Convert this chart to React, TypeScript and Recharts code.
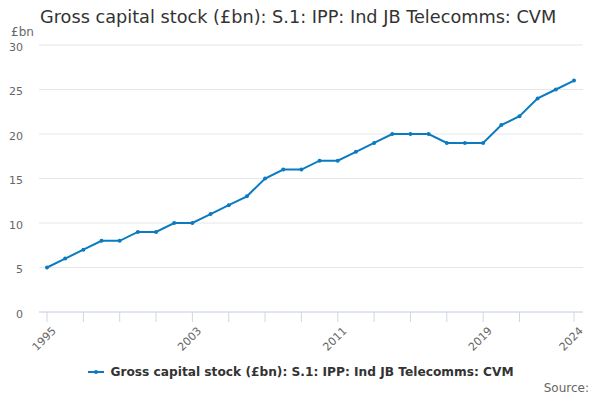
import React from "react";
import { LineChart, Line, XAxis, YAxis, CartesianGrid } from "recharts";

const years = [1995,1996,1997,1998,1999,2000,2001,2002,2003,2004,2005,2006,2007,2008,2009,2010,2011,2012,2013,2014,2015,2016,2017,2018,2019,2020,2021,2022,2023,2024];
const values = [5,6,7,8,8,9,9,10,10,11,12,13,15,16,16,17,17,18,19,20,20,20,19,19,19,21,22,24,25,26];
const xTicks = [1995,1997,1999,2001,2003,2005,2007,2009,2011,2013,2015,2017,2019,2021,2024];
const xLabels = [1995,2003,2011,2019,2024];
const yTicks = [0,5,10,15,20,25,30];

const seriesName = "Gross capital stock (£bn): S.1: IPP: Ind JB Telecomms: CVM";
const data = years.map((y, i) => ({ year: y, value: values[i] }));

const FONT = "DejaVu Sans, sans-serif";
const LINE = "#0b7bc1";

const XTick = (props: any) => {
  const { x, y, payload } = props;
  if (!xLabels.includes(payload.value)) return null;
  return (
    <g transform={`translate(${x + 4},${y + 2})`}>
      <text textAnchor="end" fill="#666" fontSize={11} fontFamily={FONT} transform="rotate(-45)" dy={8}>
        {payload.value}
      </text>
    </g>
  );
};

const YTick = (props: any) => {
  const { x, y, payload } = props;
  return (
    <text x={x} y={y} dy={5.5} textAnchor="end" fill="#666" fontSize={11} fontFamily={FONT}>
      {payload.value}
    </text>
  );
};

export default function App() {
  return (
    <div style={{ position: "absolute", left: 0, top: 0, width: 600, height: 400, background: "#fff", fontFamily: FONT }}>
      <div style={{ position: "absolute", left: 40, top: 8, fontSize: 17.7, color: "#333", whiteSpace: "nowrap", lineHeight: "18px" }}>{seriesName}</div>
      <div style={{ position: "absolute", left: 11, top: 26, fontSize: 12, color: "#666", lineHeight: "12px" }}>£bn</div>
      <LineChart width={600} height={400} data={data} margin={{ top: 45, right: 17, left: 0, bottom: 0 }}>
        <CartesianGrid horizontal vertical={false} stroke="#e6e6e6" />
        <XAxis
          dataKey="year"
          type="number"
          domain={[1995, 2024]}
          ticks={xTicks}
          interval={0}
          padding={{ left: 8, right: 9 }}
          height={88}
          stroke="#ccd6eb"
          tickSize={10}
          tick={<XTick />}
        />
        <YAxis
          domain={[0, 30]}
          ticks={yTicks}
          width={39}
          axisLine={false}
          tickLine={false}
          tickMargin={10}
          tick={<YTick />}
        />
        <Line
          type="linear"
          dataKey="value"
          stroke={LINE}
          strokeWidth={2}
          dot={{ r: 2, fill: LINE, stroke: LINE, strokeWidth: 0 }}
          isAnimationActive={false}
        />
      </LineChart>
      <div style={{ position: "absolute", left: 0, width: 600, top: 365, display: "flex", justifyContent: "center", alignItems: "center" }}>
        <svg width={20} height={12} style={{ marginRight: 4 }}>
          <line x1={2} y1={6} x2={18} y2={6} stroke={LINE} strokeWidth={2} />
          <circle cx={10} cy={6} r={2} fill={LINE} />
        </svg>
        <span style={{ fontSize: 12.2, fontWeight: "bold", color: "#333" }}>{seriesName}</span>
      </div>
      <div style={{ position: "absolute", right: 11, top: 381, fontSize: 12, color: "#666" }}>Source:</div>
    </div>
  );
}
